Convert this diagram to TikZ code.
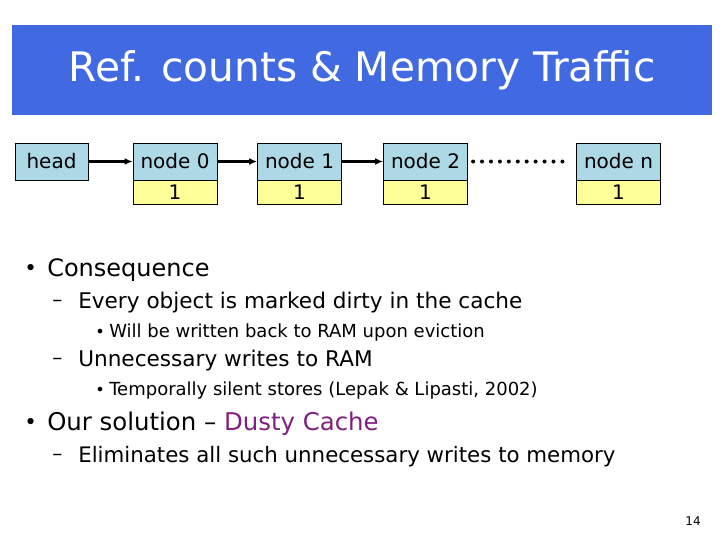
\documentclass[tikz,border=0pt]{standalone}
\usepackage{fontspec}
\setmainfont{DejaVu Sans}
\usepackage{tikz}
\usetikzlibrary{positioning,arrows.meta}
\definecolor{colortitle}{HTML}{4169E1}
\definecolor{colorcell}{HTML}{ADD8E6}
\definecolor{colorcount}{HTML}{FFFF99}
\definecolor{colordusty}{HTML}{7F1F7F}
\tikzset{
  cell/.style={draw, fill=colorcell, minimum height=37*0.75pt, inner sep=1pt, font=\fontsize{15}{15}\selectfont},
  count/.style={draw, fill=colorcount, minimum height=24*0.75pt, inner sep=0pt, font=\fontsize{15}{15}\selectfont},
  edgenext/.style={black, line width=2pt, -{Latex[length=6pt,width=5pt]}},
  txt/.style={anchor=west, inner sep=0pt}
}
\begin{document}
\begin{tikzpicture}[x=0.75pt, y=-0.75pt]
\useasboundingbox (0,0) rectangle (720,540);
\fill[colortitle] (12,25) rectangle (712,115);
\node[text=white, font=\fontsize{30.5}{30}\selectfont](title) at (362,70) {Ref. counts \& Memory Traffic};

\node[cell, minimum width=73*0.75pt](head) at (51.5,161.5) {head};
\node[cell, minimum width=84*0.75pt](n0) at (175,161.5) {node 0};
\node[cell, minimum width=84*0.75pt](n1) at (299.5,161.5) {node 1};
\node[cell, minimum width=84*0.75pt](n2) at (425.5,161.5) {node 2};
\node[cell, minimum width=84*0.75pt](nn) at (618.5,161.5) {node n};
\foreach \n in {n0,n1,n2,nn}
  \node[count, minimum width=84*0.75pt, below=0pt of \n](c\n) {1};

\draw[edgenext] (head) -- (n0);
\draw[edgenext] (n0) -- (n1);
\draw[edgenext] (n1) -- (n2);
\draw[line width=3pt, dash pattern=on 0pt off 6.7pt, line cap=round] ([xshift=4pt]n2.east) -- ([xshift=-5pt]nn.west);

% bullets
\node[txt, font=\fontsize{16}{16}\selectfont](b1) at (24,270) {•};
\node[txt, font=\fontsize{18}{18}\selectfont](t1) at (47,270) {Consequence};
\node[txt, font=\fontsize{15}{15}\selectfont](d1) at (52,303) {–};
\node[txt, font=\fontsize{16.2}{16}\selectfont](t2) at (78,303) {Every object is marked dirty in the cache};
\node[txt, font=\fontsize{12}{12}\selectfont](b2) at (95,333) {•};
\node[txt, font=\fontsize{13.5}{13}\selectfont](t3) at (109,333) {Will be written back to RAM upon eviction};
\node[txt, font=\fontsize{15}{15}\selectfont](d2) at (52,361) {–};
\node[txt, font=\fontsize{16.2}{16}\selectfont](t4) at (78,361) {Unnecessary writes to RAM};
\node[txt, font=\fontsize{12}{12}\selectfont](b3) at (95,391) {•};
\node[txt, font=\fontsize{13.5}{13}\selectfont](t5) at (109,391) {Temporally silent stores (Lepak \& Lipasti, 2002)};
\node[txt, font=\fontsize{16}{16}\selectfont](b4) at (24,424) {•};
\node[txt, font=\fontsize{18.3}{18}\selectfont](t6) at (47,424) {Our solution – \textcolor{colordusty}{Dusty Cache}};
\node[txt, font=\fontsize{15}{15}\selectfont](d3) at (52,457) {–};
\node[txt, font=\fontsize{16}{16}\selectfont](t7) at (78,457) {Eliminates all such unnecessary writes to memory};
\node[font=\fontsize{9}{9}\selectfont](page) at (693,521) {14};
\end{tikzpicture}
\end{document}
